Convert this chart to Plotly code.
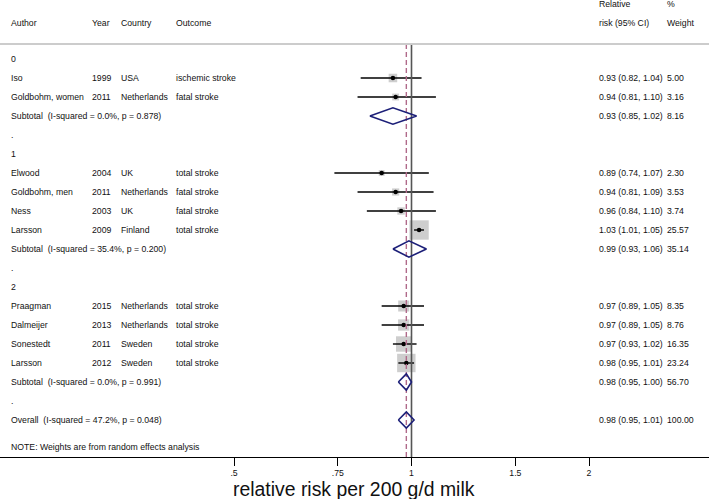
import plotly.graph_objects as go
import math

# ---------------- data ----------------
group_labels = ["0", "1", "2"]
study_group = [0, 0, 1, 1, 1, 1, 2, 2, 2, 2]
authors = ["Iso", "Goldbohm, women", "Elwood", "Goldbohm, men", "Ness", "Larsson",
           "Praagman", "Dalmeijer", "Sonestedt", "Larsson"]
years = ["1999", "2011", "2004", "2011", "2003", "2009", "2015", "2013", "2011", "2012"]
countries = ["USA", "Netherlands", "UK", "Netherlands", "UK", "Finland",
             "Netherlands", "Netherlands", "Sweden", "Sweden"]
outcomes = ["ischemic stroke", "fatal stroke", "total stroke", "fatal stroke", "fatal stroke",
            "total stroke", "total stroke", "total stroke", "total stroke", "total stroke"]
rr = [0.93, 0.94, 0.89, 0.94, 0.96, 1.03, 0.97, 0.97, 0.97, 0.98]
lo = [0.82, 0.81, 0.74, 0.81, 0.84, 1.01, 0.89, 0.89, 0.93, 0.95]
hi = [1.04, 1.10, 1.07, 1.09, 1.10, 1.05, 1.05, 1.05, 1.02, 1.01]
weight = [5.00, 3.16, 2.30, 3.53, 3.74, 25.57, 8.35, 8.76, 16.35, 23.24]

sub_text = ["Subtotal\u00a0 (I-squared = 0.0%, p = 0.878)",
            "Subtotal\u00a0 (I-squared = 35.4%, p = 0.200)",
            "Subtotal\u00a0 (I-squared = 0.0%, p = 0.991)"]
sub_rr = [0.93, 0.99, 0.98]
sub_lo = [0.85, 0.93, 0.95]
sub_hi = [1.02, 1.06, 1.00]
sub_w = [8.16, 35.14, 56.70]

overall_text = "Overall\u00a0 (I-squared = 47.2%, p = 0.048)"
overall_rr, overall_lo, overall_hi, overall_w = 0.98, 0.95, 1.01, 100.00

note_text = "NOTE: Weights are from random effects analysis"
x_tickvals = [0.5, 0.75, 1, 1.5, 2]
x_ticktext = [".5", ".75", "1", "1.5", "2"]
x_title = "relative risk per 200 g/d milk"

# ---------------- layout of rows ----------------
W, H = 709, 499
FONT = "Arial, Liberation Sans, sans-serif"
FS = 8.7
TXT = "#111111"

study_row = []
sub_row = []
label_row = []
blank_row = []
r = 0
for g in range(len(group_labels)):
    label_row.append(r); r += 1
    for i, sg in enumerate(study_group):
        if sg == g:
            study_row.append(r); r += 1
    sub_row.append(r); r += 1
    blank_row.append(r); r += 1
overall_row = r
note_row = overall_row + 1.42

fig = go.Figure()

# CI lines
cx, cy = [], []
for i in range(len(rr)):
    cx += [lo[i], hi[i], None]
    cy += [study_row[i], study_row[i], None]

# boxes
fig.add_trace(go.Scatter(x=rr, y=study_row, mode="markers",
                         marker=dict(symbol="square", color="#b9b9b9",
                                     size=[3.82 * math.sqrt(w) for w in weight],
                                     line=dict(width=0)),
                         hoverinfo="skip", showlegend=False))
fig.add_trace(go.Scatter(x=cx, y=cy, mode="lines", line=dict(color="black", width=1.4),
                         hoverinfo="skip", showlegend=False))
fig.add_trace(go.Scatter(x=rr, y=study_row, mode="markers",
                         marker=dict(symbol="circle", color="black", size=4.5),
                         hoverinfo="skip", showlegend=False))

# reference lines
top_r = -0.79
fig.add_trace(go.Scatter(x=[1, 1], y=[top_r, 21.0], mode="lines",
                         line=dict(color="#555555", width=1.6),
                         hoverinfo="skip", showlegend=False))
fig.add_trace(go.Scatter(x=[overall_rr, overall_rr], y=[top_r, 21.0], mode="lines",
                         line=dict(color="#b06a8a", width=1.4, dash="5px,3px"),
                         hoverinfo="skip", showlegend=False))

# diamonds
dh = 0.43
dx, dy = [], []
for e, l, h, rw in zip(sub_rr + [overall_rr], sub_lo + [overall_lo],
                       sub_hi + [overall_hi], sub_row + [overall_row]):
    dx += [l, e, h, e, l, None]
    dy += [rw, rw - dh, rw, rw + dh, rw, None]
fig.add_trace(go.Scatter(x=dx, y=dy, mode="lines", line=dict(color="#1c1f78", width=1.6),
                         hoverinfo="skip", showlegend=False))

# ---------------- text ----------------
ann = []
def txt(px, row, s, size=FS, anchor="left"):
    ann.append(dict(x=px / W, xref="paper", y=row, yref="y", text=s, showarrow=False,
                    xanchor=anchor, yanchor="middle",
                    font=dict(family=FONT, size=size, color=TXT)))

X_AUTH, X_YEAR, X_CTRY, X_OUT, X_RR, X_W = 9, 90, 119, 174, 597, 665
txt(X_AUTH, -1.895, "Author")
txt(X_YEAR, -1.895, "Year")
txt(X_CTRY, -1.895, "Country")
txt(X_OUT, -1.895, "Outcome")
txt(X_RR, -2.895, "Relative")
txt(X_RR, -1.895, "risk (95% CI)")
txt(X_W, -2.895, "%")
txt(X_W, -1.895, "Weight")

for g, rw in enumerate(label_row):
    txt(X_AUTH, rw, group_labels[g])
for rw in blank_row:
    txt(X_AUTH, rw, ".")
for i, rw in enumerate(study_row):
    txt(X_AUTH, rw, authors[i])
    txt(X_YEAR, rw, years[i])
    txt(X_CTRY, rw, countries[i])
    txt(X_OUT, rw, outcomes[i])
    txt(X_RR, rw, f"{rr[i]:.2f} ({lo[i]:.2f}, {hi[i]:.2f})")
    txt(X_W, rw, f"{weight[i]:.2f}")
for k, rw in enumerate(sub_row):
    txt(X_AUTH, rw, sub_text[k])
    txt(X_RR, rw, f"{sub_rr[k]:.2f} ({sub_lo[k]:.2f}, {sub_hi[k]:.2f})")
    txt(X_W, rw, f"{sub_w[k]:.2f}")
txt(X_AUTH, overall_row, overall_text)
txt(X_RR, overall_row, f"{overall_rr:.2f} ({overall_lo:.2f}, {overall_hi:.2f})")
txt(X_W, overall_row, f"{overall_w:.2f}")
txt(X_AUTH, note_row, note_text)

# axis title
PLOT_H = 457
ann.append(dict(x=354 / W, xref="paper", y=(PLOT_H - 488.5) / PLOT_H, yref="paper",
                text=x_title, showarrow=False, xanchor="center", yanchor="middle",
                font=dict(family=FONT, size=19.4, color=TXT)))

# ---------------- axes ----------------
px_per_dec = (589 - 234) / math.log10(4)
x0 = math.log10(0.5) - 234 / px_per_dec
x1 = math.log10(0.5) + (W - 234) / px_per_dec
r_top = -59 / 19
r_bot = (PLOT_H - 59) / 19

fig.update_layout(
    width=W, height=H,
    margin=dict(l=0, r=0, t=0, b=H - PLOT_H, pad=0),
    paper_bgcolor="white", plot_bgcolor="white",
    annotations=ann,
    shapes=[dict(type="line", xref="paper", yref="y", x0=0, x1=1, y0=top_r, y1=top_r,
                 line=dict(color="#cccccc", width=2))],
    xaxis=dict(type="log", range=[x0, x1], tickvals=x_tickvals, ticktext=x_ticktext,
               ticks="outside", ticklen=8, tickwidth=1, tickcolor="black",
               showline=True, linecolor="black", linewidth=1,
               showgrid=False, zeroline=False, fixedrange=True,
               tickfont=dict(family=FONT, size=FS, color=TXT)),
    yaxis=dict(range=[r_bot, r_top], visible=False, showgrid=False, zeroline=False,
               fixedrange=True),
)

fig.write_html("out.html",
               config={"displayModeBar": False, "staticPlot": True},
               post_script="document.body.style.margin='0px';document.body.style.overflow='hidden';")
